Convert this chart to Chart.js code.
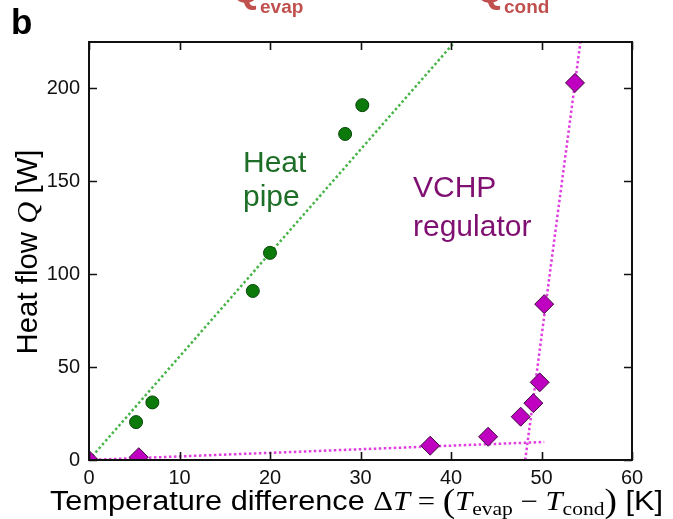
<!DOCTYPE html>
<html>
<head>
<meta charset="utf-8">
<script src="https://cdn.jsdelivr.net/npm/chart.js@4.4.1/dist/chart.umd.min.js"></script>
<style>
  html, body { margin: 0; padding: 0; background: #fff; }
  #wrap { position: relative; width: 673px; height: 519px; }
</style>
</head>
<body>
<div id="wrap"><canvas id="chart" width="673" height="519"></canvas></div>
<script>
// ── data ──────────────────────────────────────────────────────────────────
const pipeDT = [5.2, 7.0, 18.1, 20.0, 28.3, 30.2];
const pipeQ  = [20.4, 31.0, 91.0, 111.5, 175.5, 191.0];
const vchpDT = [0, 5.5, 37.7, 44.1, 47.7, 49.1, 49.8, 50.3, 53.7];
const vchpQ  = [0, 1.5, 7.7, 12.5, 23.3, 30.6, 41.8, 83.9, 203.0];

// dotted guide lines (end points)
const pipeFitDT  = [0, 40.4];
const pipeFitQ   = [0, 225];
const vchpLowDT  = [0, 50.3];
const vchpLowQ   = [0, 9.7];
const vchpHighDT = [48.2, 54.3];
const vchpHighQ  = [0, 225];

const xTicks = [0, 10, 20, 30, 40, 50, 60];
const yTicks = [0, 50, 100, 150, 200];

const pts = (xs, ys) => xs.map((x, i) => ({ x, y: ys[i] }));

const SANS = '"Liberation Sans", Arial, sans-serif';
const SERIF = '"Liberation Serif", "DejaVu Serif", serif';

// draw a run of text pieces along the baseline, returns total width
function runs(ctx, parts, x, y, measureOnly) {
  let w = 0;
  parts.forEach(p => {
    ctx.font = p.font;
    if (!measureOnly) ctx.fillText(p.t, x + w, y + (p.dy || 0));
    w += ctx.measureText(p.t).width;
  });
  return w;
}

// ── frame, inward ticks, annotations ─────────────────────────────────────
const decor = {
  id: 'decor',
  afterDraw(chart) {
    const { ctx, chartArea: a, scales: { x, y } } = chart;
    ctx.save();
    ctx.strokeStyle = '#111';
    ctx.lineWidth = 1.6;
    ctx.beginPath();
    xTicks.forEach(v => {
      const px = Math.round(x.getPixelForValue(v)) + 0.5;
      ctx.moveTo(px, a.bottom); ctx.lineTo(px, a.bottom - 8);
      ctx.moveTo(px, a.top); ctx.lineTo(px, a.top + 8);
    });
    yTicks.forEach(v => {
      const py = Math.round(y.getPixelForValue(v)) + 0.5;
      ctx.moveTo(a.left, py); ctx.lineTo(a.left + 8, py);
      ctx.moveTo(a.right, py); ctx.lineTo(a.right - 8, py);
    });
    ctx.stroke();
    ctx.lineWidth = 2;
    ctx.strokeRect(a.left, a.top, a.right - a.left, a.bottom - a.top);

    ctx.textBaseline = 'alphabetic';
    ctx.textAlign = 'left';

    // panel letter
    ctx.fillStyle = '#000';
    ctx.font = 'bold 35px ' + SANS;
    ctx.fillText('b', 11, 34);

    // cut-off red labels at the top
    ctx.fillStyle = '#c0504d';
    runs(ctx, [{ t: 'Q', font: 'bold 36px ' + SANS }, { t: 'evap', font: 'bold 19px ' + SANS, dy: 11 }], 232, 2);
    runs(ctx, [{ t: 'Q', font: 'bold 36px ' + SANS }, { t: 'cond', font: 'bold 19px ' + SANS, dy: 11 }], 476, 2);

    // series labels
    ctx.font = '30px ' + SANS;
    ctx.fillStyle = '#1d6e26';
    ctx.fillText('Heat', 243, 172);
    ctx.fillText('pipe', 243, 206);
    ctx.fillStyle = '#7f0f70';
    ctx.fillText('VCHP', 413, 197);
    ctx.fillText('regulator', 413, 236);

    // x axis title, stretched to span x = 50..663 like the original
    ctx.fillStyle = '#000';
    const xt = [
      { t: 'Temperature difference ', font: '27px ' + SANS },
      { t: '\u0394', font: '27px ' + SERIF },
      { t: 'T', font: 'italic 27px ' + SERIF },
      { t: ' = ', font: '27px ' + SERIF },
      { t: '(', font: '33px ' + SERIF, dy: 2 },
      { t: 'T', font: 'italic 27px ' + SERIF },
      { t: 'evap', font: '19px ' + SERIF, dy: 5 },
      { t: ' \u2212 ', font: '27px ' + SERIF },
      { t: 'T', font: 'italic 27px ' + SERIF },
      { t: 'cond', font: '19px ' + SERIF, dy: 5 },
      { t: ')', font: '33px ' + SERIF, dy: 2 },
      { t: ' [K]', font: '27px ' + SANS }
    ];
    const xw = runs(ctx, xt, 0, 0, true);
    ctx.save();
    ctx.translate(50, 510);
    ctx.scale(613 / xw, 1);
    runs(ctx, xt, 0, 0);
    ctx.restore();

    // y axis title
    const yt = [
      { t: 'Heat flow ', font: '29px ' + SANS },
      { t: 'Q', font: 'italic 30px ' + SERIF },
      { t: ' [W]', font: '29px ' + SANS }
    ];
    const yw = runs(ctx, yt, 0, 0, true);
    ctx.translate(37, 252);
    ctx.rotate(-Math.PI / 2);
    ctx.scale(205 / yw, 1);
    runs(ctx, yt, -yw / 2, 0);
    ctx.restore();
  }
};

const tickFont = { family: SANS, size: 20 };

new Chart(document.getElementById('chart'), {
  type: 'scatter',
  data: {
    datasets: [
      {
        label: 'VCHP regulator', data: pts(vchpDT, vchpQ),
        pointStyle: 'rectRot', pointRadius: 9.5,
        backgroundColor: '#c000c0', borderColor: '#3d0a3d', borderWidth: 1, clip: 0
      },
      {
        label: 'Heat pipe', data: pts(pipeDT, pipeQ),
        pointStyle: 'circle', pointRadius: 6.5,
        backgroundColor: '#0b7a0b', borderColor: '#0a460a', borderWidth: 1, clip: 0
      },
      {
        type: 'line', data: pts(pipeFitDT, pipeFitQ), showLine: true, pointRadius: 0,
        borderColor: '#47b447', borderWidth: 2.5, borderDash: [2.5, 2.5], clip: 0
      },
      {
        type: 'line', data: pts(vchpLowDT, vchpLowQ), showLine: true, pointRadius: 0,
        borderColor: '#e03ce0', borderWidth: 2.5, borderDash: [2.5, 2.5], clip: 0
      },
      {
        type: 'line', data: pts(vchpHighDT, vchpHighQ), showLine: true, pointRadius: 0,
        borderColor: '#e03ce0', borderWidth: 2.5, borderDash: [2.5, 2.5], clip: 0
      }
    ]
  },
  options: {
    responsive: false,
    animation: false,
    layout: { padding: { top: 42, right: 41, left: 0, bottom: 0 } },
    plugins: { legend: { display: false }, tooltip: { enabled: false } },
    scales: {
      x: {
        type: 'linear', position: 'bottom', min: 0, max: 60,
        grid: { display: false, drawTicks: false }, border: { display: false },
        ticks: { font: tickFont, color: '#111', padding: 6, maxRotation: 0, autoSkip: false },
        afterBuildTicks: s => { s.ticks = xTicks.map(v => ({ value: v })); },
        afterFit: s => { s.height = 59; }
      },
      y: {
        type: 'linear', min: 0, max: 225,
        grid: { display: false, drawTicks: false }, border: { display: false },
        ticks: { font: tickFont, color: '#111', padding: 9, autoSkip: false },
        afterBuildTicks: s => { s.ticks = yTicks.map(v => ({ value: v })); },
        afterFit: s => { s.width = 89; }
      }
    }
  },
  plugins: [decor]
});
</script>
</body>
</html>
